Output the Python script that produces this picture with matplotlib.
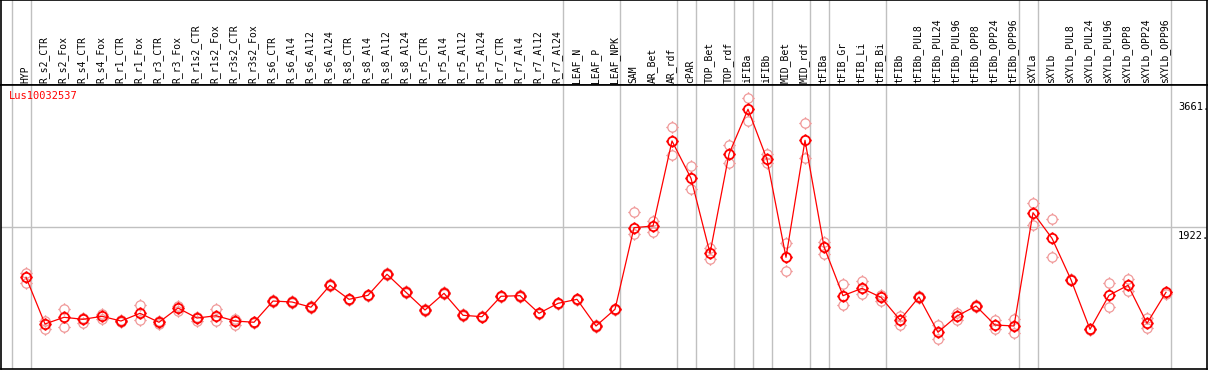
import numpy as np
import matplotlib
matplotlib.use("Agg")
import matplotlib.pyplot as plt
from matplotlib.path import Path

plt.rcParams['font.family'] = ['DejaVu Sans Mono']

gene = "Lus10032537"

samples = ["HYP", "R_s2_CTR", "R_s2_Fox", "R_s4_CTR", "R_s4_Fox", "R_r1_CTR", "R_r1_Fox",
           "R_r3_CTR", "R_r3_Fox", "R_r1s2_CTR", "R_r1s2_Fox", "R_r3s2_CTR", "R_r3s2_Fox",
           "R_s6_CTR", "R_s6_Al4", "R_s6_Al12", "R_s6_Al24", "R_s8_CTR", "R_s8_Al4",
           "R_s8_Al12", "R_s8_Al24", "R_r5_CTR", "R_r5_Al4", "R_r5_Al12", "R_r5_Al24",
           "R_r7_CTR", "R_r7_Al4", "R_r7_Al12", "R_r7_Al24", "LEAF_N", "LEAF_P", "LEAF_NPK",
           "SAM", "AR_Bet", "AR_rdf", "cPAR", "TOP_Bet", "TOP_rdf", "iFIBa", "iFIBb",
           "MID_Bet", "MID_rdf", "tFIBa", "tFIB_Gr", "tFIB_Li", "tFIB_Bi", "tFIBb",
           "tFIBb_PUL8", "tFIBb_PUL24", "tFIBb_PUL96", "tFIBb_OPP8", "tFIBb_OPP24",
           "tFIBb_OPP96", "sXYLa", "sXYLb", "sXYLb_PUL8", "sXYLb_PUL24", "sXYLb_PUL96",
           "sXYLb_OPP8", "sXYLb_OPP24", "sXYLb_OPP96"]

# mean expression per sample
means = [1249, 620, 710, 683, 723, 660, 764, 643, 835, 700, 731, 660, 643,
         929, 916, 846, 1141, 952, 1006, 1289, 1047, 808, 1033, 737, 718,
         993, 1001, 764, 898, 952, 593, 818,
         1917, 1940, 3085, 2582, 1572, 2910, 3512, 2838, 1518, 3094, 1661,
         1001, 1100, 979, 674, 983, 508, 727, 862, 606, 593,
         2119, 1774, 1216, 548, 1006, 1141, 629, 1047]

# visible replicates (upper / lower)
rep_hi = [1311, 664, 818, 704, 754, 674, 876, 660, 862, 718, 822, 683, 650,
          940, 925, 856, 1152, 962, 1016, 1300, 1058, 818, 1044, 748, 728,
          1003, 1012, 774, 908, 962, 603, 828,
          2124, 2007, 3273, 2744, 1639, 3027, 3660, 2910, 1707, 3323, 1728,
          1158, 1203, 1010, 727, 993, 606, 772, 872, 674, 683,
          2245, 2030, 1226, 558, 1168, 1222, 696, 1057]
rep_lo = [1176, 552, 583, 637, 687, 647, 674, 626, 799, 664, 664, 602, 630,
          918, 905, 836, 1130, 942, 996, 1278, 1036, 798, 1022, 726, 708,
          983, 990, 754, 888, 942, 583, 808,
          1828, 1863, 2892, 2434, 1491, 2784, 3358, 2784, 1329, 2860, 1563,
          876, 1024, 933, 606, 970, 414, 674, 852, 548, 502,
          1953, 1518, 1206, 538, 849, 1068, 570, 1030]

# group separators sit just right of these sample indices
sep_after = [-1, 0, 28, 31, 34, 35, 37, 38, 39, 41, 42, 45, 52, 53, 60]
y_ticks = [3661, 1922, 0]

W, H = 1209, 370
fig = plt.figure(figsize=(W / 100, H / 100), dpi=100)

x = np.arange(len(samples))
xlim = ((1 - 26) / 19, (1207 - 26) / 19)
ppu = 13.47  # data units per pixel

ax_lab = fig.add_axes([1 / W, (H - 85) / H, 1206 / W, 85 / H])
ax = fig.add_axes([1 / W, 1 / H, 1206 / W, 284 / H])

for a in (ax_lab, ax):
    a.set_xlim(*xlim)
    a.set_xticks([])
    a.set_yticks([])
    for s in a.spines.values():
        s.set_color("black")
        s.set_linewidth(1.2)
    for i in sep_after:
        a.axvline(i + 0.247, color="#c0c0c0", lw=1, zorder=0)

ax_lab.set_ylim(0, 85)
for i, name in enumerate(samples):
    ax_lab.text(i - 0.05, 2, name, rotation=90, ha="center", va="bottom",
                fontsize=7, color="black")

ax.set_ylim(1 * ppu, 285 * ppu)
ax.axhline(1922, color="#c0c0c0", lw=1, zorder=0)

# circle marker with small ticks
tick_len = 1.35
marker = Path.make_compound_path(
    Path.unit_circle(),
    Path([[0, 1], [0, tick_len]]), Path([[0, -1], [0, -tick_len]]),
    Path([[1, 0], [tick_len, 0]]), Path([[-1, 0], [-tick_len, 0]]))

ax.plot(x, rep_hi, ls="none", marker=marker, ms=9, mfc="none",
        mec="#f09a9a", mew=0.9, zorder=2)
ax.plot(x, rep_lo, ls="none", marker=marker, ms=9, mfc="none",
        mec="#f09a9a", mew=0.9, zorder=2)
ax.plot(x, means, color="red", lw=0.9, marker=marker, ms=9, mfc="none",
        mec="red", mew=1.3, zorder=3)

for v in y_ticks:
    va = "bottom" if v == 0 else "top"
    off = 3 if v == 0 else -4
    ax.annotate(f"{v}" if v == 0 else f"{v}.", xy=(60.63, v), xycoords="data",
                xytext=(0, off), textcoords="offset pixels",
                ha="left", va=va, fontsize=7.5, color="black")

ax.annotate(gene, xy=(0, 1), xycoords="axes fraction", xytext=(8, -6),
            textcoords="offset pixels", ha="left", va="top",
            fontsize=7.5, color="red")

fig.savefig("out.png", dpi=100)
